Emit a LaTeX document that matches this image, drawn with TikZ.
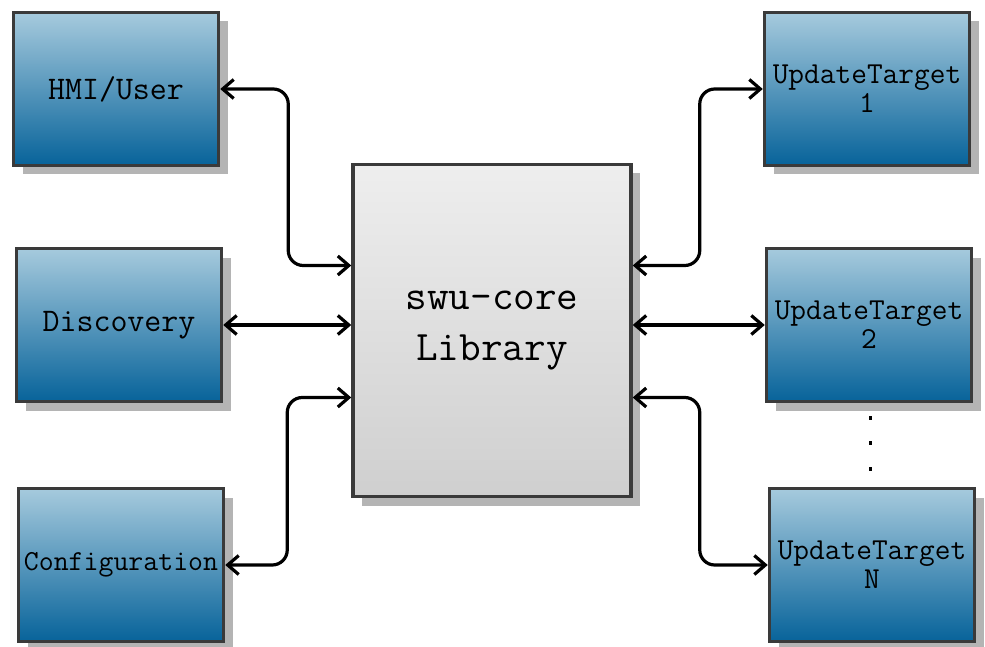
\documentclass[tikz,border=0pt]{standalone}
\usepackage{fontspec}
\usetikzlibrary{arrows.meta,shadows}
\definecolor{boxtop}{HTML}{A6CADD}
\definecolor{boxbot}{HTML}{07639A}
\definecolor{coretop}{HTML}{EEEEEE}
\definecolor{corebot}{HTML}{CFCFCF}
\definecolor{edge}{HTML}{3A3A3A}
\definecolor{shade}{HTML}{B4B4B4}
\tikzset{
  blockbox/.style={draw=edge, line width=3.5pt, rectangle, inner sep=0pt,
    top color=boxtop, bottom color=boxbot,
    minimum width=205pt, minimum height=153pt, align=center,
    font=\ttfamily\fontsize{33}{30}\selectfont,
    drop shadow={shadow xshift=9pt, shadow yshift=-9pt, fill=shade, opacity=1}},
  corebox/.style={blockbox, top color=coretop, bottom color=corebot,
    minimum width=278pt, minimum height=332pt,
    font=\ttfamily\fontsize{42}{51}\selectfont},
  targetfont/.style={font=\ttfamily\fontsize{30.5}{29}\selectfont},
  link/.style={{Straight Barb[length=11pt,width=19pt]}-{Straight Barb[length=11pt,width=19pt]},
    line width=3.2pt, rounded corners=15pt, black},
}
\begin{document}
\begin{tikzpicture}[x=1pt,y=-1pt]
\useasboundingbox (0,0) rectangle (985,647);
\fill[white] (0,0) rectangle (985,647);

% left column
\node[blockbox] (hmi)  at (116,89)  {HMI/User};
\node[blockbox] (disc) at (119,325) {Discovery};
\node[blockbox, font=\ttfamily\fontsize{29}{30}\selectfont] (conf) at (121,565) {Configuration};

% core library
\node[corebox] (core) at (492,330.5) {swu-core\\Library};

% right column
\node[blockbox, targetfont] (ut1) at (867,89)  {UpdateTarget\\1};
\node[blockbox, targetfont] (ut2) at (869,325) {UpdateTarget\\2};
\node[blockbox, targetfont] (utn) at (872,565) {UpdateTarget\\N};

% ellipsis between targets
\foreach \yy in {418,443,469}
  \fill[black] (868.5,\yy-2) rectangle (871.5,\yy+2);

% connectors
\draw[link] (hmi.east) -- ++(68,0) |- ([yshift=65pt]core.west);
\draw[link] (disc.east) -- (disc.east -| core.west);
\draw[link] (conf.east) -- ++(62,0) |- ([yshift=-67pt]core.west);

\draw[link] ([yshift=65pt]core.east) -- ++(67,0) |- (ut1.west);
\draw[link] (core.east |- ut2.west) -- (ut2.west);
\draw[link] ([yshift=-67pt]core.east) -- ++(67,0) |- (utn.west);
\end{tikzpicture}
\end{document}
